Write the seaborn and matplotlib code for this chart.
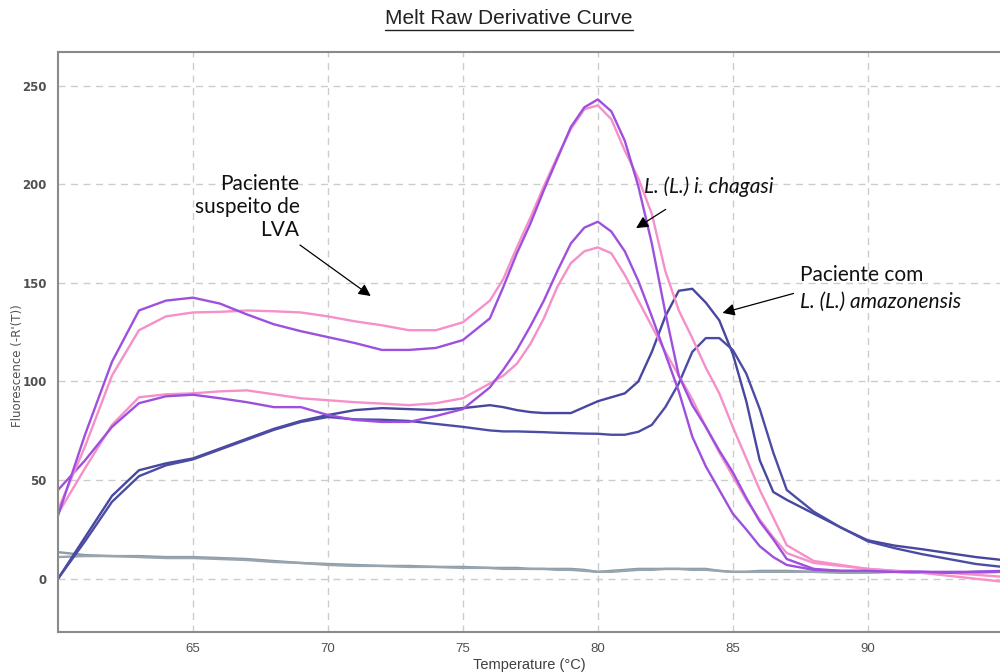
import matplotlib
matplotlib.use("Agg")
import matplotlib.pyplot as plt
from matplotlib.lines import Line2D
import seaborn as sns
import pandas as pd

# temperature grid (°C) shared by all curves
temp = [60, 61, 62, 63, 64, 65, 66, 67, 68, 69, 70, 71, 72, 73, 74, 75, 76,
        76.5, 77, 77.5, 78, 78.5, 79, 79.5, 80, 80.5, 81, 81.5, 82, 82.5, 83, 83.5,
        84, 84.5, 85, 85.5, 86, 86.5, 87,
        88, 89, 90, 91, 92, 93, 94, 95]

# suspected LVA patient / L. (L.) i. chagasi (high peaks)
purple_high = [32, 73, 110, 136, 141, 142.5, 139.5, 134, 129, 125.5, 122.5, 119.5, 116, 116, 117, 121, 132,
               148, 165, 180, 197, 213, 229, 239, 243, 237, 222, 199, 170, 135, 103, 88,
               77, 65, 54, 41, 29, 20, 10,
               5, 4, 4, 3.5, 3.5, 3, 3.5, 4]
pink_high = [35, 67, 103, 126, 133, 135, 135.3, 136, 135.6, 135, 133, 130.5, 128.5, 126, 126, 130, 141,
             152, 168, 183, 199, 214, 228, 238, 240, 233, 217, 203, 185, 156, 136, 122,
             107, 94, 77, 61, 45, 31, 17,
             9, 7, 5, 4, 3, 1.5, 0, -1.5]
# lower peaks
purple_low = [45, 60, 77, 89, 92.5, 93.3, 91.5, 89.5, 87, 87, 83, 80.5, 79.5, 79.5, 82.5, 86, 97,
              106, 116, 128, 141, 156, 170, 178, 181, 176, 166, 151, 133, 114, 95, 72,
              57, 45, 33, 25, 16.5, 11, 7,
              4.5, 4, 4, 3.5, 3.5, 3.5, 3.5, 3.7]
pink_low = [33, 56, 78, 92, 93.5, 94, 95, 95.5, 93.5, 91.5, 90.5, 89.5, 88.8, 88, 89, 91.5, 99,
            103, 109, 119, 132, 148, 160, 166, 168, 165, 154, 141, 128, 115, 103, 91,
            77, 64, 52, 40, 30, 21, 13,
            8, 6.5, 5, 4, 3.5, 3, 2, 1]
# L. (L.) amazonensis patient
blue_a = [0, 21, 42, 55, 58.5, 61, 66, 71, 76, 80, 83, 85.5, 86.5, 86, 85.5, 86.5, 88,
          87, 85.5, 84.5, 84, 84, 84, 87, 90, 92, 94, 100, 115, 133, 146, 147,
          140, 131, 114, 90, 60, 44, 40,
          33, 26, 19.5, 16.8, 15, 13, 11, 9.5]
blue_b = [0, 19, 39, 52, 57.5, 60.5, 65.5, 70.5, 75.5, 79.5, 82, 80.8, 80.6, 80, 78.5, 77, 75.2,
          74.7, 74.7, 74.5, 74.3, 74, 73.8, 73.6, 73.5, 73, 73, 74.5, 78, 87, 99, 115,
          122, 122, 116, 104, 86, 64, 45,
          34, 26, 19, 15.5, 12.5, 10, 7.5, 6]
# negative controls
gray_a = [13.5, 12, 11.5, 11.5, 11, 11, 10.5, 10, 9, 8, 7.5, 7, 6.5, 6.5, 6, 6, 5.5,
          5.5, 5.5, 5, 5, 5, 5, 4.5, 3.5, 4, 4.5, 5, 5, 5, 5, 5,
          5, 4, 3.5, 3.5, 4, 4, 4,
          3.5, 3.5, 3.5, 3.5, 3, 3, 3.5, 3.5]
gray_b = [11, 11.5, 11.5, 11, 10.5, 10.5, 10, 9.5, 8.5, 8, 7, 6.5, 6.5, 6, 6, 5.5, 5.5,
          5, 5, 5, 5, 4.5, 4.5, 4, 3.5, 3.5, 4, 4.5, 4.5, 5, 5, 4.5,
          4.5, 4, 3.5, 3.5, 3.5, 3.5, 3.5,
          3.5, 3, 3, 3.5, 3, 3, 3, 3.5]

curves = {
    "gray_a": gray_a, "gray_b": gray_b,
    "blue_a": blue_a, "blue_b": blue_b,
    "pink_low": pink_low, "purple_low": purple_low,
    "pink_high": pink_high, "purple_high": purple_high,
}
palette = {
    "gray_a": "#8d9ba6", "gray_b": "#98a5ae",
    "blue_a": "#47479e", "blue_b": "#4c4ca5",
    "pink_low": "#f590c9", "purple_low": "#9d50de",
    "pink_high": "#f590c9", "purple_high": "#9d50de",
}

rows = []
for name, vals in curves.items():
    for t, v in zip(temp, vals):
        rows.append({"temp": t, "fluor": v, "curve": name})
df = pd.DataFrame(rows)

sns.set_style("white")
plt.rcParams["font.family"] = ["DejaVu Sans"]

fig = plt.figure(figsize=(10, 6.72), dpi=100)
ax = fig.add_axes([0.058, 0.0595, 0.942, 0.863])

sns.lineplot(data=df, x="temp", y="fluor", hue="curve", palette=palette,
             hue_order=list(curves.keys()), estimator=None, sort=False,
             linewidth=1.7, legend=False, ax=ax)

ax.set_xlim(60, 94.9)
ax.set_ylim(-27, 267)
ax.set_xticks([65, 70, 75, 80, 85, 90])
ax.set_yticks([0, 50, 100, 150, 200, 250])
ax.grid(True, color="#cccccc", linestyle=(0, (5, 4)), linewidth=1.0)
ax.set_axisbelow(True)
for s in ax.spines.values():
    s.set_color("#8a8a8a")
    s.set_linewidth(1.5)
ax.spines["right"].set_visible(False)  # cut off in the original screenshot
ax.tick_params(length=0, pad=8)
for lab in ax.get_yticklabels():
    lab.set_fontsize(8.5)
    lab.set_fontweight("bold")
    lab.set_color("#505050")
for lab in ax.get_xticklabels():
    lab.set_fontsize(9.5)
    lab.set_color("#505050")
    lab.set_family("Liberation Sans")
ax.set_xlabel("Temperature (°C)", fontsize=10.5, color="#404040",
              family="Liberation Sans", labelpad=2)
ax.set_ylabel("Fluorescence (-R'(T))", fontsize=8.5, color="#505050")
ax.yaxis.set_label_coords(-0.036, 0.46)

# title with underline
title = fig.text(0.509, 0.972, "Melt Raw Derivative Curve", ha="center", va="center",
                 fontsize=15, family="Liberation Sans", color="#222222")
fig.canvas.draw()
bb = title.get_window_extent().transformed(fig.transFigure.inverted())
fig.add_artist(Line2D([bb.x0, bb.x1], [bb.y0 - 0.002, bb.y0 - 0.002],
                      transform=fig.transFigure, color="#222222", linewidth=1.0))

annot_font = dict(fontsize=15, family="Lato", color="#111111")
arrow = dict(arrowstyle="-|>", color="black", linewidth=0.9, mutation_scale=18)

ax.annotate("Paciente\nsuspeito de\nLVA", xy=(71.67, 142.5), xytext=(68.95, 188.5),
            ha="right", va="center", linespacing=1.2, arrowprops=arrow, **annot_font)
ax.annotate("L. (L.) i. chagasi", xy=(81.33, 177), xytext=(81.7, 198.8),
            ha="left", va="center", style="italic", **annot_font)
ax.annotate("", xy=(81.33, 177), xytext=(82.6, 188), arrowprops=arrow)
ax.text(87.48, 154, "Paciente com", ha="left", va="center", **annot_font)
ax.text(87.48, 140.5, "L. (L.) amazonensis", ha="left", va="center", style="italic",
        **annot_font)
ax.annotate("", xy=(84.52, 134.4), xytext=(87.35, 145), arrowprops=arrow)

fig.savefig("out.png", dpi=100)
